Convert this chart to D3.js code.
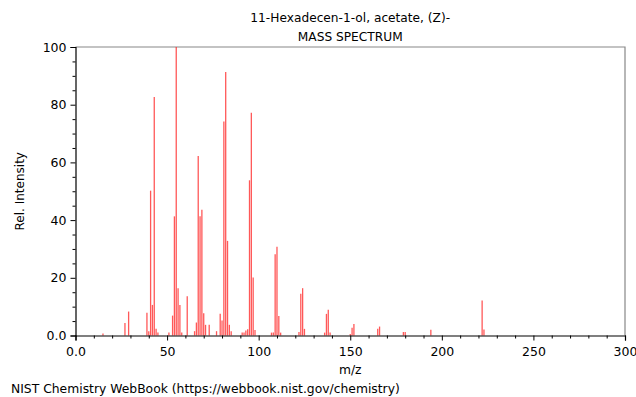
<!DOCTYPE html>
<html><head><meta charset="utf-8">
<script src="https://cdn.jsdelivr.net/npm/d3@7"></script>
<style>
body{margin:0;background:#fff;}
text{font-family:"DejaVu Sans",sans-serif;}
</style></head>
<body>
<svg id="c" width="636" height="397"></svg>
<script>
const titleLines = ["11-Hexadecen-1-ol, acetate, (Z)-", "MASS SPECTRUM"];
const xLabel = "m/z";
const yLabel = "Rel. Intensity";
const footer = "NIST Chemistry WebBook (https://webbook.nist.gov/chemistry)";
const xTicks = [0, 50, 100, 150, 200, 250, 300];
const yTicks = [0, 20, 40, 60, 80, 100];

const mz = [15, 27, 29, 39, 40, 41, 42, 43, 44, 45, 51, 53, 54, 55, 56, 57, 58, 61, 65, 66, 67, 68, 69, 70, 71, 73,
  77, 79, 80, 81, 82, 83, 84, 85, 91, 92, 93, 94, 95, 96, 97, 98, 107, 108, 109, 110, 111, 112,
  122, 123, 124, 125, 136, 137, 138, 139, 150, 151, 152, 165, 166, 179, 180, 194, 222, 223];
const intensity = [0.7, 4.3, 8.3, 7.9, 1.5, 50.2, 10.6, 82.7, 2.3, 1.0, 1.0, 6.9, 41.3, 100, 16.4, 10.6, 1.0, 13.6, 1.5, 4.5, 62.2, 41.3, 43.6, 7.7, 3.7, 3.7,
  1.5, 7.5, 5.2, 74.2, 91.3, 32.8, 3.7, 1.5, 1.0, 1.0, 1.7, 2.2, 53.8, 77.2, 20.1, 1.9, 1.0, 1.0, 28.2, 30.8, 6.8, 1.0,
  1.2, 14.5, 16.4, 2.3, 1.0, 7.5, 8.9, 1.0, 0.5, 2.7, 4.0, 2.3, 3.1, 1.2, 1.2, 2.0, 12.1, 2.1];

const svg = d3.select("#c");
const m = {l: 75.5, r: 625, t: 47, b: 335.5};
const x = d3.scaleLinear().domain([0, 300]).range([m.l, m.r]);
const y = d3.scaleLinear().domain([0, 100]).range([m.b, m.t]);

// frame top & right
svg.append("path").attr("d", `M${m.l},${m.t}H${m.r}V${m.b}`)
  .attr("fill", "none").attr("stroke", "#888").attr("stroke-width", 1.2);

// peaks
svg.append("g").selectAll("line").data(mz).join("line")
  .attr("x1", d => x(d)).attr("x2", d => x(d))
  .attr("y1", y(0)).attr("y2", (d, i) => y(intensity[i]))
  .attr("stroke", "#ff2020").attr("stroke-opacity", 0.75).attr("stroke-width", 1.3);

// x axis
const xAxis = d3.axisBottom(x).tickValues(xTicks).tickFormat(d3.format(".1f")).tickSize(5).tickPadding(4);
const gx = svg.append("g").attr("transform", `translate(0,${m.b})`).call(xAxis);
gx.select(".domain").attr("stroke", "#000").attr("stroke-width", 1.2);
gx.selectAll("text").attr("font-size", 12.5).attr("fill", "#000").attr("dy", "0.9em");
gx.selectAll(".tick text").text(d => d === 0 ? "0.0" : String(d));
svg.append("g").attr("transform", `translate(0,${m.b})`)
  .call(d3.axisBottom(x).tickValues(d3.range(0, 301, 10).filter(v => v % 50)).tickSize(3).tickFormat(""))
  .select(".domain").remove();

// y axis
const yAxis = d3.axisLeft(y).tickValues(yTicks).tickFormat(d => d === 0 ? "0.0" : String(d)).tickSize(5).tickPadding(4);
const gy = svg.append("g").attr("transform", `translate(${m.l},0)`).call(yAxis);
gy.select(".domain").attr("stroke", "#000").attr("stroke-width", 1.2);
gy.selectAll("text").attr("font-size", 12.5).attr("fill", "#000");
svg.append("g").attr("transform", `translate(${m.l},0)`)
  .call(d3.axisLeft(y).tickValues(d3.range(0, 101, 5).filter(v => v % 20)).tickSize(3).tickFormat(""))
  .select(".domain").remove();

// titles
svg.selectAll(".title").data(titleLines).join("text")
  .attr("x", (m.l + m.r) / 2).attr("y", (d, i) => 22 + i * 19)
  .attr("text-anchor", "middle").attr("font-size", 12.2).attr("fill", "#000").text(d => d);

svg.append("text").attr("x", (m.l + m.r) / 2).attr("y", 374)
  .attr("text-anchor", "middle").attr("font-size", 12.3).text(xLabel);
svg.append("text").attr("transform", `translate(24,${(m.t + m.b) / 2}) rotate(-90)`)
  .attr("text-anchor", "middle").attr("font-size", 12).text(yLabel);
svg.append("text").attr("x", 11).attr("y", 393).attr("font-size", 12.35).text(footer);
</script>
</body></html>
